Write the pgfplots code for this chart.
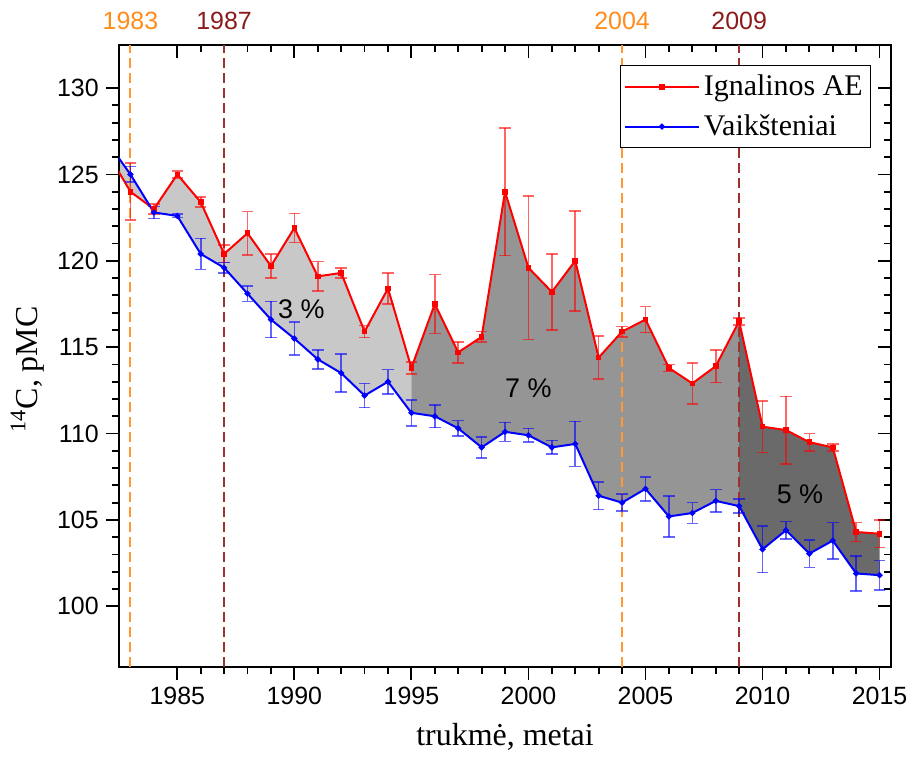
\documentclass[border=0pt]{standalone}
\usepackage{fontspec}
\setmainfont{Liberation Sans}
\newfontfamily\serif{Liberation Serif}
\usepackage{pgfplots}
\pgfplotsset{compat=1.18}
\usepackage{pgfplotstable}
\usepgfplotslibrary{fillbetween}

\definecolor{ornL}{HTML}{FF9A33}
\definecolor{ornT}{HTML}{FF8C1A}
\definecolor{drL}{HTML}{A0302E}
\definecolor{drT}{HTML}{8B1A1A}
\definecolor{g1}{HTML}{C8C8C8}
\definecolor{g2}{HTML}{959595}
\definecolor{g3}{HTML}{6A6A6A}

\pgfplotstableread{
x y e
1982 126.3 0
1983 124.0 1.65
1984 123.0 0.3
1985 125.0 0.2
1986 123.4 0.3
1987 120.4 0.5
1988 121.6 1.25
1989 119.7 0.7
1990 121.9 0.85
1991 119.1 0.85
1992 119.3 0.3
1993 115.9 0.35
1994 118.4 0.9
1995 113.8 0.35
1996 117.5 1.7
1997 114.7 0.6
1998 115.6 0.3
1999 124.0 3.7
2000 119.6 4.15
2001 118.2 2.2
2002 120.0 2.9
2003 114.4 1.25
2004 115.9 0.3
2005 116.6 0.75
2006 113.8 0.2
2007 112.9 1.2
2008 113.9 0.95
2009 116.5 0.2
2010 110.4 1.5
2011 110.2 1.95
2012 109.5 0.5
2013 109.2 0.2
2014 104.3 0.55
2015 104.2 0.8
}\ignal

\pgfplotstableread{
x y e
1982 126.9 0
1983 125.0 0.45
1984 122.8 0.35
1985 122.6 0.1
1986 120.4 0.9
1987 119.6 0.3
1988 118.1 0.45
1989 116.6 1.05
1990 115.5 0.95
1991 114.3 0.55
1992 113.5 1.1
1993 112.2 0.7
1994 113.0 0.7
1995 111.2 0.75
1996 111.0 0.65
1997 110.3 0.45
1998 109.2 0.6
1999 110.1 0.55
2000 109.9 0.4
2001 109.2 0.4
2002 109.4 1.3
2003 106.4 0.8
2004 106.0 0.5
2005 106.8 0.7
2006 105.2 1.2
2007 105.4 0.6
2008 106.1 0.65
2009 105.8 0.4
2010 103.3 1.35
2011 104.4 0.5
2012 103.05 0.8
2013 103.8 1.05
2014 101.9 1.0
2015 101.8 0.85
}\vaik

\pgfplotsset{common/.style={
  width=387pt, height=311.5pt, scale only axis,
  xmin=1982.5, xmax=2015.5, ymin=96.5, ymax=132.5,
  xtick={1985,1990,...,2015}, ytick={100,105,...,130},
  minor x tick num=4, minor y tick num=4,
  major tick length=6.5pt, minor tick length=3.5pt,
  every tick/.style={black, line width=0.9pt},
  axis line style={line width=1pt},
}}

\begin{document}
\begin{tikzpicture}
% top/right inward ticks
\begin{axis}[common, xtick pos=right, ytick pos=right, tick align=inside,
  xticklabels={}, yticklabels={}]
\addplot[draw=none] coordinates {(2000,110)};
\end{axis}
\begin{axis}[common, xtick pos=left, ytick pos=left, tick align=outside,
  tick label style={font=\fontsize{12.5}{15}\selectfont},
  /pgf/number format/assume math mode=true,
  /pgf/number format/1000 sep={},
  xlabel={trukmė, metai},
  ylabel={\textsuperscript{14}C, pMC},
  label style={font=\serif\fontsize{16}{19}\selectfont},
  xlabel style={at={(axis description cs:0.5,-0.113)}, anchor=center},
  ylabel style={at={(axis description cs:-0.118,0.478)}, anchor=center},
  legend style={at={(0.974,0.967)}, anchor=north east, draw=black,
    line width=0.5pt, font=\serif\fontsize{15}{17}\selectfont,
    row sep=4pt, inner xsep=2pt, inner ysep=2.5pt},
  legend cell align=left,
  legend image code/.code={\draw[mark repeat=2,mark phase=2,#1] plot coordinates {(0cm,0cm) (0.65cm,0cm) (1.3cm,0cm)};},
]
% reference lines
\addplot[ornL, line width=1pt, dash pattern=on 5pt off 2.5pt, forget plot] coordinates {(1983,96.5) (1983,132.5)};
\addplot[ornL, line width=1pt, dash pattern=on 5pt off 2.5pt, forget plot] coordinates {(2004,96.5) (2004,132.5)};
\addplot[drL, line width=1pt, dash pattern=on 5pt off 2.5pt, forget plot] coordinates {(1987,96.5) (1987,132.5)};
\addplot[drL, line width=1pt, dash pattern=on 5pt off 2.5pt, forget plot] coordinates {(2009,96.5) (2009,132.5)};
% paths for filling
\addplot[draw=none, name path=R, forget plot] table[x=x,y=y]{\ignal};
\addplot[draw=none, name path=B, forget plot] table[x=x,y=y]{\vaik};
\addplot[g1, forget plot] fill between[of=R and B, soft clip={domain=1982:1995}];
\addplot[g2, forget plot] fill between[of=R and B, soft clip={domain=1995:2009}];
\addplot[g3, forget plot] fill between[of=R and B, soft clip={domain=2009:2015}];
% data
\addplot[red, line width=1pt, mark=square*, mark size=0.9pt, mark options={solid, fill=red},
  error bars/.cd, y dir=both, y explicit,
  error bar style={line width=0.8pt, draw=red, opacity=0.6},
  error mark options={rotate=90, mark size=2.9pt, line width=0.8pt, draw=red, opacity=0.6}]
  table[x=x, y=y, y error=e]{\ignal};
\addlegendentry{Ignalinos AE}
\addplot[blue, line width=1pt, mark=*, mark size=0.95pt, mark options={solid, fill=blue},
  error bars/.cd, y dir=both, y explicit,
  error bar style={line width=0.8pt, draw=blue, opacity=0.6},
  error mark options={rotate=90, mark size=2.9pt, line width=0.8pt, draw=blue, opacity=0.6}]
  table[x=x, y=y, y error=e]{\vaik};
\addlegendentry{Vaikšteniai}
% annotations
\node[font=\fontsize{13.5}{15}\selectfont] at (axis cs:1990.3,117.2) {3 \%};
\node[font=\fontsize{13.5}{15}\selectfont] at (axis cs:2000.0,112.6) {7 \%};
\node[font=\fontsize{13.5}{15}\selectfont] at (axis cs:2011.6,106.5) {5 \%};
\coordinate (c83) at (axis cs:1983,132.5);
\coordinate (c87) at (axis cs:1987,132.5);
\coordinate (c04) at (axis cs:2004,132.5);
\coordinate (c09) at (axis cs:2009,132.5);
\end{axis}
\node[text=ornT, font=\fontsize{12.5}{15}\selectfont, yshift=12pt] at (c83) {1983};
\node[text=drT, font=\fontsize{12.5}{15}\selectfont, yshift=12pt] at (c87) {1987};
\node[text=ornT, font=\fontsize{12.5}{15}\selectfont, yshift=12pt] at (c04) {2004};
\node[text=drT, font=\fontsize{12.5}{15}\selectfont, yshift=12pt] at (c09) {2009};
\path (-59.5pt,-49pt) rectangle (397.5pt,334pt);
\end{tikzpicture}
\end{document}
